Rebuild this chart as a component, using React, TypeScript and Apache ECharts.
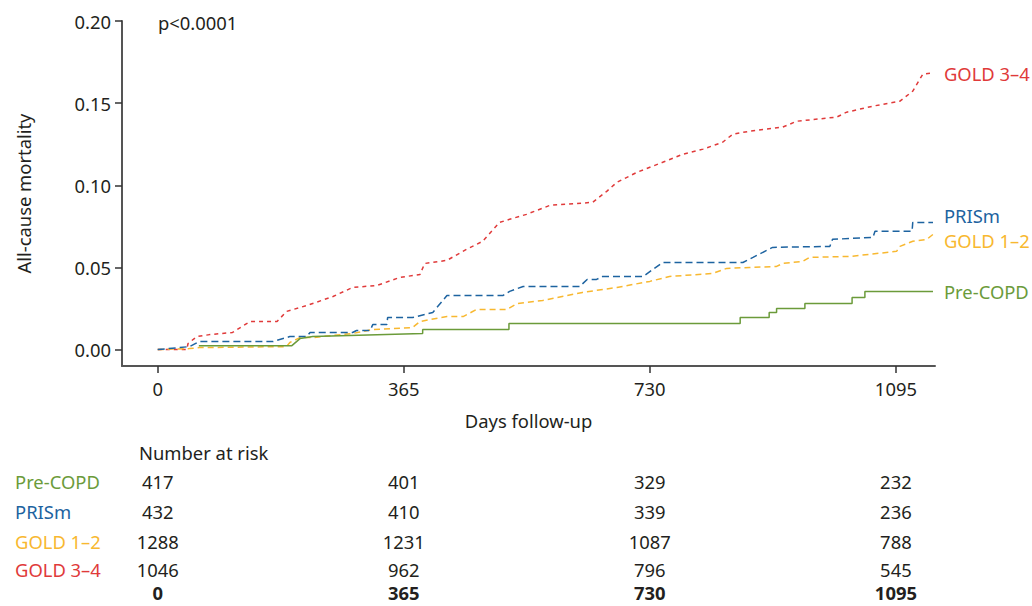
import React, { useEffect, useRef } from "react";
import * as echarts from "echarts";

const FONT = "'Noto Sans', 'Open Sans', sans-serif";
const FS = 18.4;
const TEXT = "#231f20";

const groups = ["Pre-COPD", "PRISm", "GOLD 1–2", "GOLD 3–4"];
const groupColors = ["#6b9b3a", "#1d63a0", "#f8b830", "#e03a3a"];

// Pre-COPD (solid step curve)
const preCopdDays = [61, 199, 211, 230, 393, 393, 521, 521, 864, 864, 907, 907, 918, 918, 960, 960, 1030, 1030, 1049, 1049, 1150];
const preCopdRisk = [0.0024, 0.0024, 0.0067, 0.0079, 0.0098, 0.0122, 0.0122, 0.0159, 0.0159, 0.0195, 0.0195, 0.0226, 0.0226, 0.025, 0.025, 0.028, 0.028, 0.0317, 0.0317, 0.0354, 0.0354];

// PRISm
const prismDays = [0, 47, 62, 171, 196, 221, 226, 289, 295, 315, 319, 340, 341, 378, 408, 429, 512, 522, 542, 626, 637, 651, 660, 711, 720, 749, 868, 883, 912, 997, 1001, 1061, 1064, 1119, 1120, 1150];
const prismRisk = [0, 0.0018, 0.0049, 0.0049, 0.0079, 0.0079, 0.0104, 0.0104, 0.0116, 0.0116, 0.0152, 0.0152, 0.0195, 0.0195, 0.0226, 0.0329, 0.0329, 0.0354, 0.0384, 0.0384, 0.0427, 0.0427, 0.0445, 0.0445, 0.0445, 0.053, 0.053, 0.0561, 0.0622, 0.0628, 0.0671, 0.0683, 0.072, 0.072, 0.0774, 0.0774];

// GOLD 1–2
const gold12Days = [0, 47, 62, 191, 196, 211, 230, 289, 319, 378, 389, 429, 453, 473, 518, 533, 571, 630, 681, 730, 759, 823, 844, 878, 918, 927, 957, 967, 1027, 1096, 1101, 1120, 1141, 1150];
const gold12Risk = [0, 0.0006, 0.0012, 0.0018, 0.0043, 0.0073, 0.0073, 0.0098, 0.0122, 0.0134, 0.0171, 0.0201, 0.0201, 0.0244, 0.0244, 0.028, 0.0299, 0.0348, 0.0378, 0.0415, 0.0445, 0.0463, 0.0494, 0.05, 0.0506, 0.0524, 0.0537, 0.0561, 0.0567, 0.0598, 0.0628, 0.0659, 0.0671, 0.0701];

// GOLD 3–4
const gold34Days = [0, 43, 45, 58, 77, 111, 137, 177, 191, 221, 260, 289, 325, 359, 389, 396, 429, 458, 482, 507, 522, 547, 582, 645, 666, 681, 711, 749, 779, 809, 838, 853, 878, 927, 948, 1007, 1022, 1061, 1101, 1120, 1135, 1150];
const gold34Risk = [0, 0, 0.0037, 0.0079, 0.0091, 0.0104, 0.0171, 0.0171, 0.0232, 0.0268, 0.0323, 0.0378, 0.039, 0.0439, 0.0457, 0.0524, 0.0543, 0.061, 0.0659, 0.0774, 0.0793, 0.0823, 0.0878, 0.0896, 0.0963, 0.1018, 0.1079, 0.114, 0.1189, 0.122, 0.1262, 0.1311, 0.1329, 0.1354, 0.139, 0.1415, 0.1445, 0.1482, 0.1512, 0.1573, 0.1677, 0.1683];

const xTicks = [0, 365, 730, 1095];
const yTicks = [0, 0.05, 0.1, 0.15, 0.2];

const atRiskDays = [0, 365, 730, 1095];
const preCopdAtRisk = [417, 401, 329, 232];
const prismAtRisk = [432, 410, 339, 236];
const gold12AtRisk = [1288, 1231, 1087, 788];
const gold34AtRisk = [1046, 962, 796, 545];

const seriesDays = [preCopdDays, prismDays, gold12Days, gold34Days];
const seriesRisk = [preCopdRisk, prismRisk, gold12Risk, gold34Risk];
const atRisk = [preCopdAtRisk, prismAtRisk, gold12AtRisk, gold34AtRisk];
const dashes: any[] = ["solid", [7, 4], [6, 4], [4, 4]];
const labelOffsets = [[0, 0], [0, -7], [0, 6], [0, 0]];

export default function App() {
  const ref = useRef<HTMLDivElement>(null);
  useEffect(() => {
    if (!ref.current) return;
    const chart = echarts.init(ref.current, undefined, { renderer: "svg" });
    const series = groups.map((g, k) => ({
      name: g,
      type: "line",
      showSymbol: false,
      symbol: "none",
      z: 10 - k,
      data: seriesDays[k].map((d, i) => [d, seriesRisk[k][i]]),
      lineStyle: { color: groupColors[k], width: 1.5, type: dashes[k] },
      itemStyle: { color: groupColors[k] },
      endLabel: {
        show: true,
        formatter: g,
        color: groupColors[k],
        fontFamily: FONT,
        fontSize: FS,
        distance: 11,
        offset: labelOffsets[k],
      },
    }));
    chart.setOption({
      animation: false,
      grid: { left: 122, right: 97, top: 21, bottom: 240, containLabel: false },
      xAxis: {
        type: "value",
        min: -53,
        max: 1153,
        name: "Days follow-up",
        nameLocation: "middle",
        nameGap: 45,
        nameTextStyle: { color: TEXT, fontFamily: FONT, fontSize: FS },
        axisLine: { onZero: false, lineStyle: { color: "#555", width: 2 } },
        axisTick: { show: true, customValues: xTicks, length: 7, lineStyle: { color: "#333", width: 1.5 } },
        axisLabel: {
          customValues: xTicks,
          color: TEXT,
          fontFamily: FONT,
          fontSize: FS,
          margin: 13,
          formatter: (v: number) => String(v),
        },
        splitLine: { show: false },
      },
      yAxis: {
        type: "value",
        min: -0.01,
        max: 0.2,
        name: "All-cause mortality",
        nameLocation: "middle",
        nameGap: 90,
        nameTextStyle: { color: TEXT, fontFamily: FONT, fontSize: FS },
        axisLine: { onZero: false, lineStyle: { color: "#555", width: 2 } },
        axisTick: { show: true, customValues: yTicks, length: 7, lineStyle: { color: "#333", width: 1.5 } },
        axisLabel: {
          customValues: yTicks,
          color: TEXT,
          fontFamily: FONT,
          fontSize: FS,
          margin: 11,
          formatter: (v: number) => v.toFixed(2),
        },
        splitLine: { show: false },
      },
      series,
    });

    const colX = atRiskDays.map((d) => chart.convertToPixel({ xAxisIndex: 0 }, d) as number);
    const rowY = [481, 511, 541, 569];
    const graphics: any[] = [
      {
        type: "text",
        x: 158,
        y: 22,
        style: { text: "p<0.0001", fill: TEXT, fontFamily: FONT, fontSize: FS, align: "left", verticalAlign: "middle" },
      },
      {
        type: "text",
        x: 139,
        y: 452,
        style: { text: "Number at risk", fill: TEXT, fontFamily: FONT, fontSize: FS, align: "left", verticalAlign: "middle" },
      },
    ];
    groups.forEach((g, k) => {
      graphics.push({
        type: "text",
        x: 15,
        y: rowY[k],
        style: { text: g, fill: groupColors[k], fontFamily: FONT, fontSize: FS, align: "left", verticalAlign: "middle" },
      });
      atRisk[k].forEach((n, j) => {
        graphics.push({
          type: "text",
          x: colX[j],
          y: rowY[k],
          style: { text: String(n), fill: TEXT, fontFamily: FONT, fontSize: FS, align: "center", verticalAlign: "middle" },
        });
      });
    });
    atRiskDays.forEach((d, j) => {
      graphics.push({
        type: "text",
        x: colX[j],
        y: 592,
        style: { text: String(d), fill: TEXT, fontFamily: FONT, fontSize: FS, fontWeight: "bold", align: "center", verticalAlign: "middle" },
      });
    });
    chart.setOption({ graphic: graphics });

    return () => chart.dispose();
  }, []);
  return <div ref={ref} style={{ position: "absolute", left: 0, top: 0, width: 1032, height: 606 }} />;
}
